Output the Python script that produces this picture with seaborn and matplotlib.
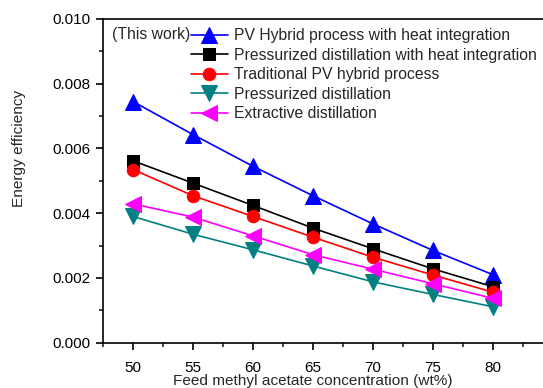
import matplotlib
matplotlib.use("Agg")
import matplotlib.pyplot as plt
from matplotlib.ticker import MultipleLocator, FormatStrFormatter
import numpy as np
import pandas as pd
import seaborn as sns

# Feed concentration (wt%)
concentration = [50, 55, 60, 65, 70, 75, 80]

# Energy efficiency of each process
pv_hybrid_hi = [0.00745, 0.00643, 0.00545, 0.00454, 0.00367, 0.00285, 0.00210]
pressurized_hi = [0.00562, 0.00493, 0.00424, 0.00354, 0.00290, 0.00228, 0.00173]
pv_hybrid_trad = [0.00535, 0.00454, 0.00390, 0.00326, 0.00264, 0.00209, 0.00156]
pressurized = [0.00390, 0.00335, 0.00287, 0.00237, 0.00188, 0.00149, 0.00111]
extractive = [0.00429, 0.00388, 0.00330, 0.00272, 0.00227, 0.00182, 0.00137]

labels = [
    "PV Hybrid process with heat integration",
    "Pressurized distillation with heat integration",
    "Traditional PV hybrid process",
    "Pressurized distillation",
    "Extractive distillation",
]
series = [pv_hybrid_hi, pressurized_hi, pv_hybrid_trad, pressurized, extractive]
colors = ["#0000ff", "#000000", "#ff0000", "#008080", "#ff00ff"]
markers = ["^", "s", "o", "v", "<"]
msizes = [11, 8.5, 9, 11, 11]

sns.set_style("ticks")
plt.rcParams["font.family"] = ["Liberation Sans", "DejaVu Sans"]

frames = []
for lab, vals in zip(labels, series):
    frames.append(pd.DataFrame({"x": concentration, "y": vals, "process": lab}))
df = pd.concat(frames, ignore_index=True)

fig = plt.figure(figsize=(5.43, 3.88), dpi=100)
ax = fig.add_axes([103 / 543, 45.3 / 388, 450 / 543, 323.7 / 388])

handles = []
for lab, col, mk, ms in zip(labels, colors, markers, msizes):
    sub = df[df["process"] == lab]
    sns.lineplot(data=sub, x="x", y="y", ax=ax, color=col, marker=mk,
                 markersize=ms, markeredgecolor=col, linewidth=1.2,
                 legend=False)
    handles.append(ax.lines[-1])

ax.set_xlim(47.5, 85)
ax.set_ylim(0.0, 0.010)
ax.xaxis.set_major_locator(MultipleLocator(5))
ax.xaxis.set_minor_locator(MultipleLocator(2.5))
ax.yaxis.set_major_locator(MultipleLocator(0.002))
ax.yaxis.set_minor_locator(MultipleLocator(0.001))
ax.yaxis.set_major_formatter(FormatStrFormatter("%.3f"))
ax.set_xticks([50, 55, 60, 65, 70, 75, 80])

ax.tick_params(which="major", direction="out", length=5, width=1.2,
               labelsize=11, colors="black", pad=4)
ax.tick_params(axis="x", which="major", pad=8)
ax.tick_params(which="minor", direction="out", length=3, width=1.2)
for side in ["left", "bottom", "top", "right"]:
    ax.spines[side].set_linewidth(1.2)
    ax.spines[side].set_color("black")

ax.set_xlabel("Feed methyl acetate concentration (wt%)", fontsize=11.1)
ax.xaxis.set_label_coords(0.467, -0.098)
ax.set_ylabel("Energy efficiency", fontsize=11.1)
ax.yaxis.set_label_coords(-0.172, 0.60)

leg = fig.legend(handles, labels, loc="upper left",
                 bbox_to_anchor=(191 / 543, 1 - 28 / 388),
                 frameon=False, fontsize=11.3, handlelength=2.35,
                 handletextpad=0.4, labelspacing=0.29, borderpad=0,
                 borderaxespad=0)

fig.text(112 / 543, 1 - 35 / 388, "(This work)", fontsize=11.3,
         ha="left", va="center")

fig.savefig("out.png", dpi=100)
